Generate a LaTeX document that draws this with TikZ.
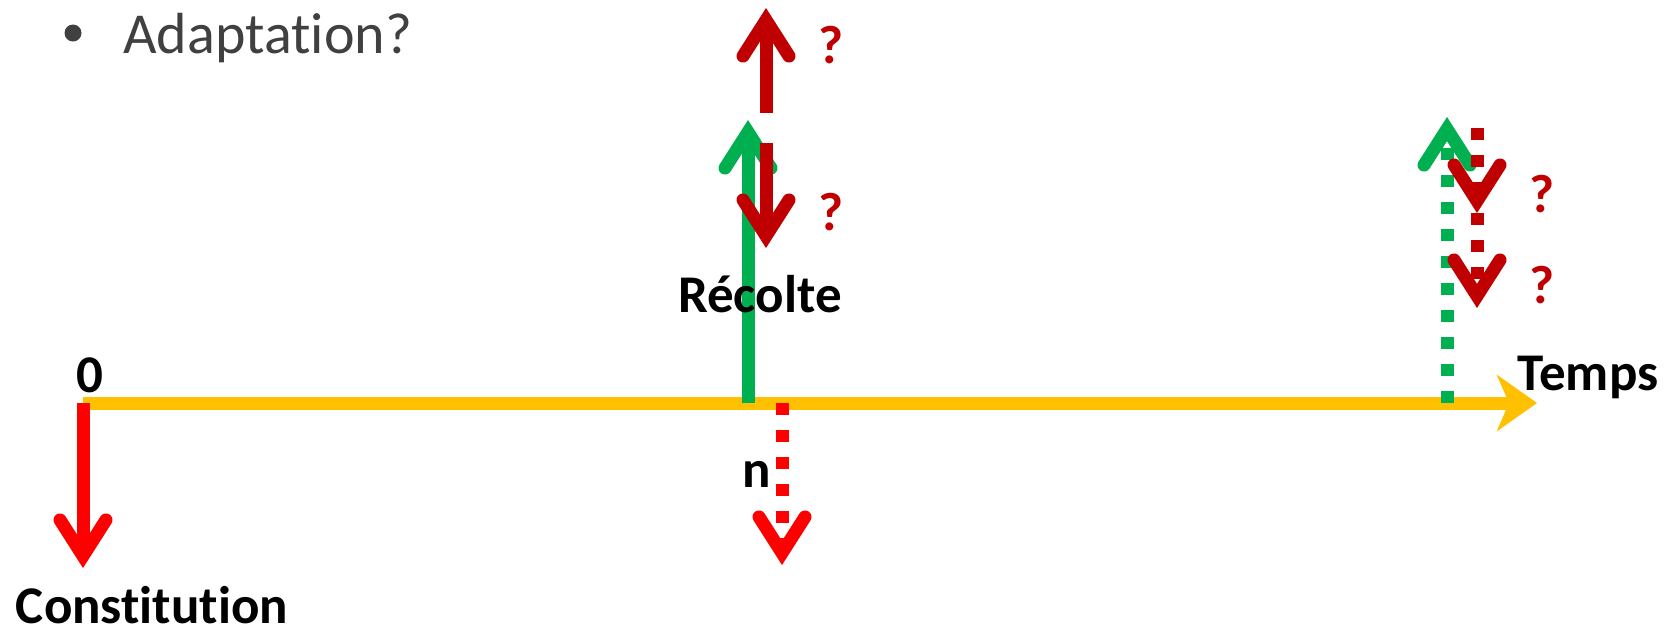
\documentclass[tikz,border=0pt]{standalone}
\usepackage{fontspec}
\setmainfont[Ligatures={NoCommon,NoContextual,NoRare},Contextuals=NoAlternate]{Carlito}
\usepackage{xcolor}
\usepackage{tikz}
\usetikzlibrary{arrows.meta,positioning}

\definecolor{axeorange}{HTML}{FFC000}
\definecolor{vertrecolte}{HTML}{00B050}
\definecolor{rougefonce}{HTML}{C00000}
\definecolor{rougevif}{HTML}{FF0000}
\definecolor{grisfonce}{HTML}{404040}

\tikzset{
  chevron/.style={line width=6.5pt,-{Straight Barb[length=18pt,width=23pt,line cap=round,line join=miter]}},
  pointille/.style={dash pattern=on 6pt off 7.5pt},
  etiquette/.style={inner sep=0pt,anchor=base,font=\bfseries\fontsize{26.5}{31}\selectfont},
  question/.style={inner sep=0pt,anchor=base,text=rougefonce,font=\bfseries\fontsize{27}{32}\selectfont},
}

\begin{document}
\begin{tikzpicture}[x=0.5pt,y=-0.5pt]
\useasboundingbox (0,0) rectangle (1673,633);

\node[circle,fill=grisfonce,inner sep=0pt,minimum size=8.5pt] (puce) at (73,33) {};
\node[anchor=base west,inner sep=0pt,text=grisfonce,font=\fontsize{29}{34}\selectfont] (titre) at (123,53) {Adaptation?};

\coordinate (t0) at (83,403);
\coordinate (tfin) at (1537,403);
\draw[line width=6.5pt,axeorange,-{Stealth[length=20pt,width=28pt,inset=6pt]}] (t0) -- (tfin);

\coordinate (c1) at (83,568);
\draw[chevron,rougevif] (t0) -- (c1);

\coordinate (r0) at (748,403);
\coordinate (r1) at (748,120);
\draw[chevron,vertrecolte] (r0) -- (r1);

\coordinate (h0) at (766,113);
\coordinate (h1) at (766,8);
\draw[chevron,rougefonce] (h0) -- (h1);
\coordinate (b0) at (766,143);
\coordinate (b1) at (766,248);
\draw[chevron,rougefonce] (b0) -- (b1);

\coordinate (n0) at (782,403);
\coordinate (n1) at (782,565);
\draw[chevron,pointille,rougevif] (n0) -- (n1);

\coordinate (a0) at (1447,403);
\coordinate (a1) at (1447,117);
\draw[chevron,pointille,vertrecolte] (a0) -- (a1);

\coordinate (d0) at (1477,128);
\coordinate (d1) at (1477,213);
\coordinate (d2) at (1477,308);
\draw[chevron,pointille,rougefonce] (d0) -- (d1);
\draw[chevron,pointille,rougefonce] (d1) -- (d2);

\node[etiquette] (zero) at (90,392) {0};
\node[etiquette] (constitution) at (152,623) {Constitution};
\node[etiquette] (recolte) at (760,312) {Récolte};
\node[etiquette] (n) at (757,487) {n};
\node[etiquette] (temps) at (1588,390) {Temps};

\node[question] (q1) at (831,63) {?};
\node[question] (q2) at (831,230) {?};
\node[question] (q3) at (1542,212) {?};
\node[question] (q4) at (1542,303) {?};
\end{tikzpicture}
\end{document}
